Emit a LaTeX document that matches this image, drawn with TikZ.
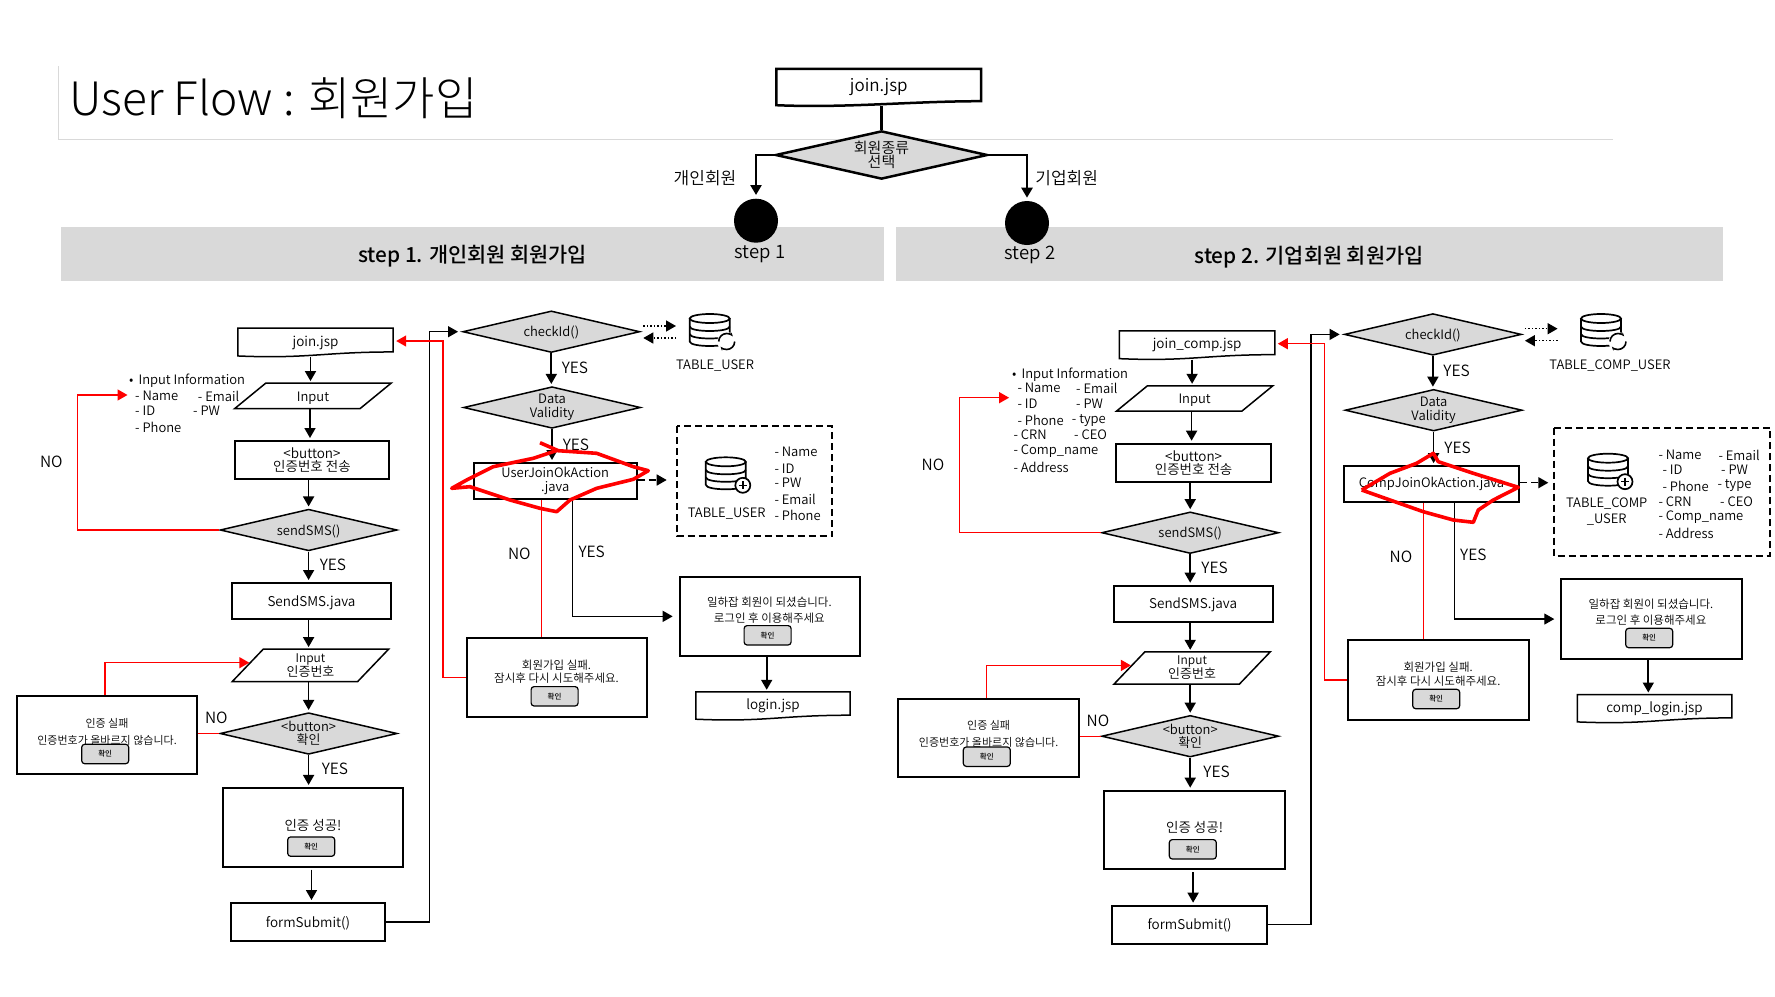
\documentclass[tikz,border=0pt]{standalone}
\usepackage{fontspec}
\setmainfont{Noto Sans CJK KR DemiLight}[BoldFont={Noto Sans CJK KR Medium}]
\newfontfamily\titlefont{Noto Sans CJK KR Light}
\usetikzlibrary{arrows.meta, shapes.geometric}
\definecolor{bandgray}{HTML}{D9D9D9}
\definecolor{rulegray}{HTML}{D9D9D9}
\newcommand{\fs}[1]{\fontsize{#1}{#1}\selectfont}
\newcommand{\docoutline}[2][1.5pt]{\draw[line width=#1] (#2.north west) -- (#2.north east) -- ([yshift=5pt]#2.south east)
    .. controls ([xshift=-70pt,yshift=5pt]#2.south east) and ([xshift=70pt,yshift=-2pt]#2.south west) .. ([yshift=1pt]#2.south west) -- cycle;}
\newcommand{\paraoutline}[1]{\draw[line width=1.5pt] (#1.south west) -- ([xshift=31pt]#1.north west) -- (#1.north east) -- ([xshift=-31pt]#1.south east) -- cycle;}
\tikzset{
  dbbody/.pic={
    \draw[line width=1.7pt] (0,-11.5) ellipse (20 and 4.5);
    \draw[line width=1.7pt] (-20,-11.5) -- (-20,11.5) .. controls (-20,17.5) and (20,17.5) .. (20,11.5) -- (20,-11.5);
    \draw[line width=1.7pt] (-20,-3.5) .. controls (-20,2.5) and (20,2.5) .. (20,-3.5);
    \draw[line width=1.7pt] (-20,4) .. controls (-20,10) and (20,10) .. (20,4);
  },
  dbrefresh/.pic={
    \pic {dbbody};
    \fill[white] (17,11.5) circle (9.5);
    \draw[line width=1.6pt,-{Stealth[length=4pt]}] (25,11.5) arc[start angle=0,end angle=140,radius=8];
    \draw[line width=1.6pt,-{Stealth[length=4pt]}] (9,11.5) arc[start angle=180,end angle=320,radius=8];
  },
  dbplus/.pic={
    \pic {dbbody};
    \draw[line width=1.7pt,fill=white] (17,12) circle (7.5);
    \draw[line width=1.5pt] (13,12) -- (21,12) (17,8) -- (17,16);
  }
}
\begin{document}
\begin{tikzpicture}[
            x = 1pt, y = -1pt,
            > = {Triangle[length=10pt,width=11pt]},
     flow/.style = {->, line width=1.7pt, shorten >=2pt},
     rail/.style = {line width=1.2pt},
  redflow/.style = {->, red, line width=1.4pt},
  redrail/.style = {red, line width=1.2pt},
  longdash/.style = {dash pattern=on 7pt off 4pt},
     txt/.style = {inner sep=0pt, align=center},
     lab/.style = {inner sep=0pt, font=\fs{15.5}},
   field/.style = {inner sep=0pt, anchor=west, font=\fs{13}},
   oneline/.style = {text height=10.5pt, text depth=0pt},
    box/.style = {draw, line width=2pt, inner sep=0pt, align=center, font=\fontsize{13.5}{13}\selectfont},
    doc/.style = {inner sep=0pt, align=center, font=\fs{13.5}},
   para/.style = {inner sep=0pt, align=center, minimum width=156, font=\fontsize{13}{14}\selectfont},
    dia/.style = {draw, diamond, shape aspect=4.28, fill=bandgray, line width=1.5pt, inner sep=0pt,
                  align=center, minimum width=177, minimum height=41.6, font=\fontsize{13}{13}\selectfont},
  okbtn/.style = {draw, fill=bandgray, rounded corners=3pt, line width=1.2pt, inner sep=0pt,
                  minimum width=47, minimum height=19.4, font=\bfseries\fs{7.5}}
                        ]
\useasboundingbox (0,0) rectangle (1775,996);
% title
\draw[rulegray, line width=1pt] (58,66) -- (58,139) -- (1613,139);
\node[inner sep=0pt, anchor=west, font=\titlefont\fs{46}] (title) at (69,98) {User Flow : 회원가입};
% bands
\fill[bandgray] (61,227) rectangle (884,281);
\fill[bandgray] (896,227) rectangle (1723,281);
\node[inner sep=0pt, font=\bfseries\fs{20.8}] (band1) at (472.6,256.5) {step 1. 개인회원 회원가입};
\node[inner sep=0pt, font=\bfseries\fs{20.8}] (band2) at (1309,257) {step 2. 기업회원 회원가입};
% top part
\node[doc, minimum width=204.3, minimum height=37, font=\fs{17}] (topjoin) at (878.8,87.5) {join.jsp};
\docoutline[2.5pt]{topjoin}
\node[dia, minimum width=212, minimum height=48.3, shape aspect=4.3, line width=2.5pt, font=\fontsize{15}{14}\selectfont] (topkind) at (881.5,155) {회원종류\\선택};
\fill (756,220.7) circle (22) node[inner sep=0pt] (dot1) {};
\fill (1027,223) circle (22) node[inner sep=0pt] (dot2) {};
\draw[line width=2.5pt] (topjoin.south -| topkind) -- (topkind.north);
\draw[->, line width=2.5pt] (topkind.west) -| ([yshift=25.7pt]dot1.center);
\draw[->, line width=2.5pt] (topkind.east) -| ([yshift=25.3pt]dot2.center);
\node[inner sep=0pt, font=\fs{17}] (kind1) at (705,178) {개인회원};
\node[inner sep=0pt, font=\fs{17}] (kind2) at (1066.7,178) {기업회원};
\node[inner sep=0pt, font=\fs{18.5}] (steptxt1) at (760,254.5) {step 1};
\node[inner sep=0pt, font=\fs{18.5}] (steptxt2) at (1030,255) {step 2};
% both flows
\foreach \s/\dx/\dy/\jsp/\login/\actx/\acty/\actw/\acttxt in {
    u/0/0/join.jsp/login.jsp/555.2/480.85/163/{UserJoinOkAction\\.java},
    c/881.6/2.7/join\_comp.jsp/comp\_login.jsp/549.9/481.3/175.6/{CompJoinOkAction.java}}{
\begin{scope}[shift={(\dx,\dy)}]
    \node[doc, minimum width=155, minimum height=28.5] (\s-join) at (315.5,342.5) {\jsp};
    \docoutline{\s-join}
    \node[para, oneline, minimum height=25] (\s-input) at (313,395.8) {Input};
    \paraoutline{\s-input}
    \node[box, minimum width=154.6, minimum height=38] (\s-send) at (312,460) {<button>\\인증번호 전송};
    \node[dia, oneline] (\s-sms) at (308.6,530) {sendSMS()};
    \node[box, oneline, minimum width=159, minimum height=36] (\s-java) at (311.5,601) {SendSMS.java};
    \node[para, minimum height=32] (\s-code) at (310.5,665.3) {{\fs{12}Input}\\인증번호};
    \paraoutline{\s-code}
    \node[dia] (\s-ok) at (308.6,733.5) {<button>\\확인};
    \node[box, minimum width=180.3, minimum height=78.7] (\s-pass) at (313,827.3) {};
    \node[txt, font=\fs{13.5}] (\s-passmsg) at (313,825) {인증 성공!};
    \node[okbtn] (\s-passbtn) at (311.2,846.6) {확인};
    \node[box, oneline, minimum width=154.6, minimum height=38] (\s-form) at (308,922) {formSubmit()};
    \node[box, minimum width=180.6, minimum height=78] (\s-fail) at (107,735) {};
    \node[txt, font=\fontsize{11}{17}\selectfont] (\s-failmsg) at (107,731.5) {인증 실패\\인증번호가 올바르지 않습니다.};
    \node[okbtn] (\s-failbtn) at (105.2,754) {확인};
    \node[dia, oneline] (\s-check) at (551.3,331.7) {checkId()};
    \node[dia, font=\fontsize{13}{14}\selectfont] (\s-valid) at (552,407.5) {Data\\Validity};
    \node[box, line width=1.7pt, minimum width=\actw, minimum height=36, font=\fontsize{13}{14.5}\selectfont] (\s-act) at (\actx,\acty) {\acttxt};
    \node[box, minimum width=180.3, minimum height=79.3] (\s-bye) at (556.85,677.35) {};
    \node[txt, font=\fontsize{11.5}{13.5}\selectfont] (\s-byemsg) at (556.5,671.5) {회원가입 실패.\\잠시후 다시 시도해주세요.};
    \node[okbtn] (\s-byebtn) at (554.6,696.3) {확인};
    \node[box, minimum width=180.3, minimum height=79.3] (\s-hello) at (769.85,616.35) {};
    \node[txt, font=\fontsize{11.5}{16}\selectfont] (\s-hellomsg) at (769.3,609.7) {일하잡 회원이 되셨습니다.\\로그인 후 이용해주세요};
    \node[okbtn] (\s-hellobtn) at (767.6,635.3) {확인};
    \node[doc, minimum width=154, minimum height=28] (\s-login) at (773,706) {\login};
    \docoutline{\s-login}
    % free ends
    \coordinate (\s-norail) at (77.7,395);
    \coordinate (\s-info) at (127.5,395);
    \coordinate (\s-back) at (429.3,600);
    \coordinate (\s-redback) at (443,600);
    \coordinate (\s-dotr) at (643.3,326);
    \coordinate (\s-dbr) at (676,326);
    \coordinate (\s-dotl) at (643.3,338);
    \coordinate (\s-dbl) at (676,338);
    \coordinate (\s-out) at (572.5,499);
    \coordinate (\s-dash) at (666.7,480);
    % arrows
    \draw[flow] (\s-join.south -| 310.5,0) -- (\s-input.north -| 310.5,0);
    \draw[flow] (\s-input.south -| 310,0) -- (\s-send.north -| 310,0);
    \draw[flow] (\s-send.south -| \s-sms) -- (\s-sms.north);
    \draw[flow] (\s-sms.south) -- (\s-java.north -| \s-sms);
    \draw[flow] (\s-java.south -| \s-sms) -- (\s-code.north -| \s-sms);
    \draw[flow] (\s-code.south -| \s-ok) -- (\s-ok.north);
    \draw[flow] (\s-ok.south) -- (\s-pass.north -| \s-ok);
    \draw[flow] ([yshift=-2pt]\s-pass.south -| 311.5,0) -- (\s-form.north -| 311.5,0);
    \draw[rail, ->, shorten >=4pt] (\s-form.east) -| (\s-back) |- (\s-check.west);
    \draw[flow] (\s-check.south) -- (\s-valid.north -| \s-check);
    \draw[flow] (\s-valid.south) -- (\s-act.north -| \s-valid);
    \draw[rail, ->, shorten >=6pt] (\s-out) |- (\s-hello.west);
    \draw[flow] (\s-hello.south -| 766.7,0) -- (\s-login.north -| 766.7,0);
    \draw[->, line width=1.5pt, dotted] (\s-dotr) -- (\s-dbr);
    \draw[->, line width=1.5pt, dotted] (\s-dbl) -- (\s-dotl);
    \draw[->, line width=1.5pt, longdash] (\s-act.east |- \s-dash) -- (\s-dash);
    % red lines
    \draw[redflow] (\s-sms.west) -| (\s-norail) -- (\s-info);
    \draw[redrail] (\s-ok.west) -- (\s-fail.east |- \s-ok);
    \draw[redflow] ([xshift=-2pt]\s-fail.north) |- ([shift={(17,-2.6)}]\s-code.west);
    \draw[redrail] ([xshift=-15pt]\s-bye.north) -- ([xshift=-15pt]\s-bye.north |- \s-act.south);
    \draw[redflow, shorten >=3pt] (\s-bye.west) -| (\s-redback) |- ([yshift=1.5pt]\s-join.east);
    % labels
    \node[lab] (\s-no1) at (51.3,461.7) {NO};
    \node[lab] (\s-yes1) at (333,564.7) {YES};
    \node[lab] (\s-no2) at (216.3,717.7) {NO};
    \node[lab] (\s-yes2) at (335,768.7) {YES};
    \node[lab] (\s-yes3) at (575,368.3) {YES};
    \node[lab] (\s-yes4) at (576,445) {YES};
    \node[lab] (\s-no3) at (519.3,554.3) {NO};
    \node[lab] (\s-yes5) at (591.7,551.7) {YES};
\end{scope}
}
% step 1 tables and fields
\pic at (709.7,330) {dbrefresh};
\node[inner sep=0pt, font=\fs{13}] (tableu) at (715,366) {TABLE\_USER};
\draw[line width=2pt, longdash] (676.7,426) rectangle (832.3,536);
\pic at (725.8,473.3) {dbplus};
\node[inner sep=0pt, font=\fs{13}] (tableadd) at (726.7,513.3) {TABLE\_USER};
\foreach \t/\y [count=\i] in {Name/452.3, ID/468.3, PW/482.7, Email/499.3, Phone/515.3}
    \node[field] (ufield\i) at (774.3,\y) {- \t};
\node[field] (uinfohead) at (129,381) {•\hspace{5pt}Input Information};
\foreach \x/\y/\t [count=\i] in {135/396/Name, 197.7/396/Email, 135/411/ID, 193/411/PW, 135/427/Phone}
    \node[field] (uinfo\i) at (\x,\y) {- \t};
% step 2 tables and fields
\pic at (1601,330) {dbrefresh};
\node[inner sep=0pt, font=\fs{13}] (tablec) at (1610,366) {TABLE\_COMP\_USER};
\draw[line width=2pt, longdash] (1554,427.7) rectangle (1770,556);
\pic at (1608,469.7) {dbplus};
\node[inner sep=0pt, align=center, font=\fontsize{13}{16}\selectfont] (tablecadd) at (1606.7,512) {TABLE\_COMP\\\_USER};
\foreach \x/\y/\t [count=\i] in {1658.3/455/Name, 1718.3/455/Email, 1662.3/470/ID, 1721/470/PW, 1662.3/486/Phone,
        1717.3/486/type, 1658.3/502/CRN, 1720/502/CEO, 1658.3/517.3/Comp\_name, 1658.3/533.3/Address}
    \node[field] (cfield\i) at (\x,\y) {- \t};
\node[field] (cinfohead) at (1012,374.3) {•\hspace{5pt}Input Information};
\foreach \x/\y/\t [count=\i] in {1017.3/388.3/Name, 1076/388.3/Email, 1017.3/404/ID, 1076/404/PW, 1017.3/420.3/Phone,
        1071.7/420.3/type, 1013.3/435/CRN, 1074/435/CEO, 1013.3/451.3/Comp\_name, 1013.3/467/Address}
    \node[field] (cinfo\i) at (\x,\y) {- \t};
% red scribbles
\draw[red, line width=3.6pt, line join=round] (540,442.7) -- (558.3,450.7) -- (596.7,453.3) -- (633.3,466.7) -- (648.3,470.7)
    -- (633.3,479.3) -- (596.7,488.3) -- (570,500) -- (556.7,511.7) -- (540,508.3) -- (510,500) -- (470,486.7)
    -- (451.7,488.3) -- (466.7,480) -- (493.3,466.7) -- (533.3,458.3) -- (558.3,450);
\draw[red, line width=3.6pt, line join=round] (1361.7,490) -- (1390,473.3) -- (1416.7,463.3) -- (1433.3,453.3) -- (1438.3,461.7)
    -- (1473.3,473.3) -- (1518.3,487.3) -- (1493.3,500) -- (1478.3,510) -- (1473.3,522.3) -- (1453.3,520)
    -- (1423.3,511.7) -- (1390,500) -- (1361.7,490);
\end{tikzpicture}
\end{document}
